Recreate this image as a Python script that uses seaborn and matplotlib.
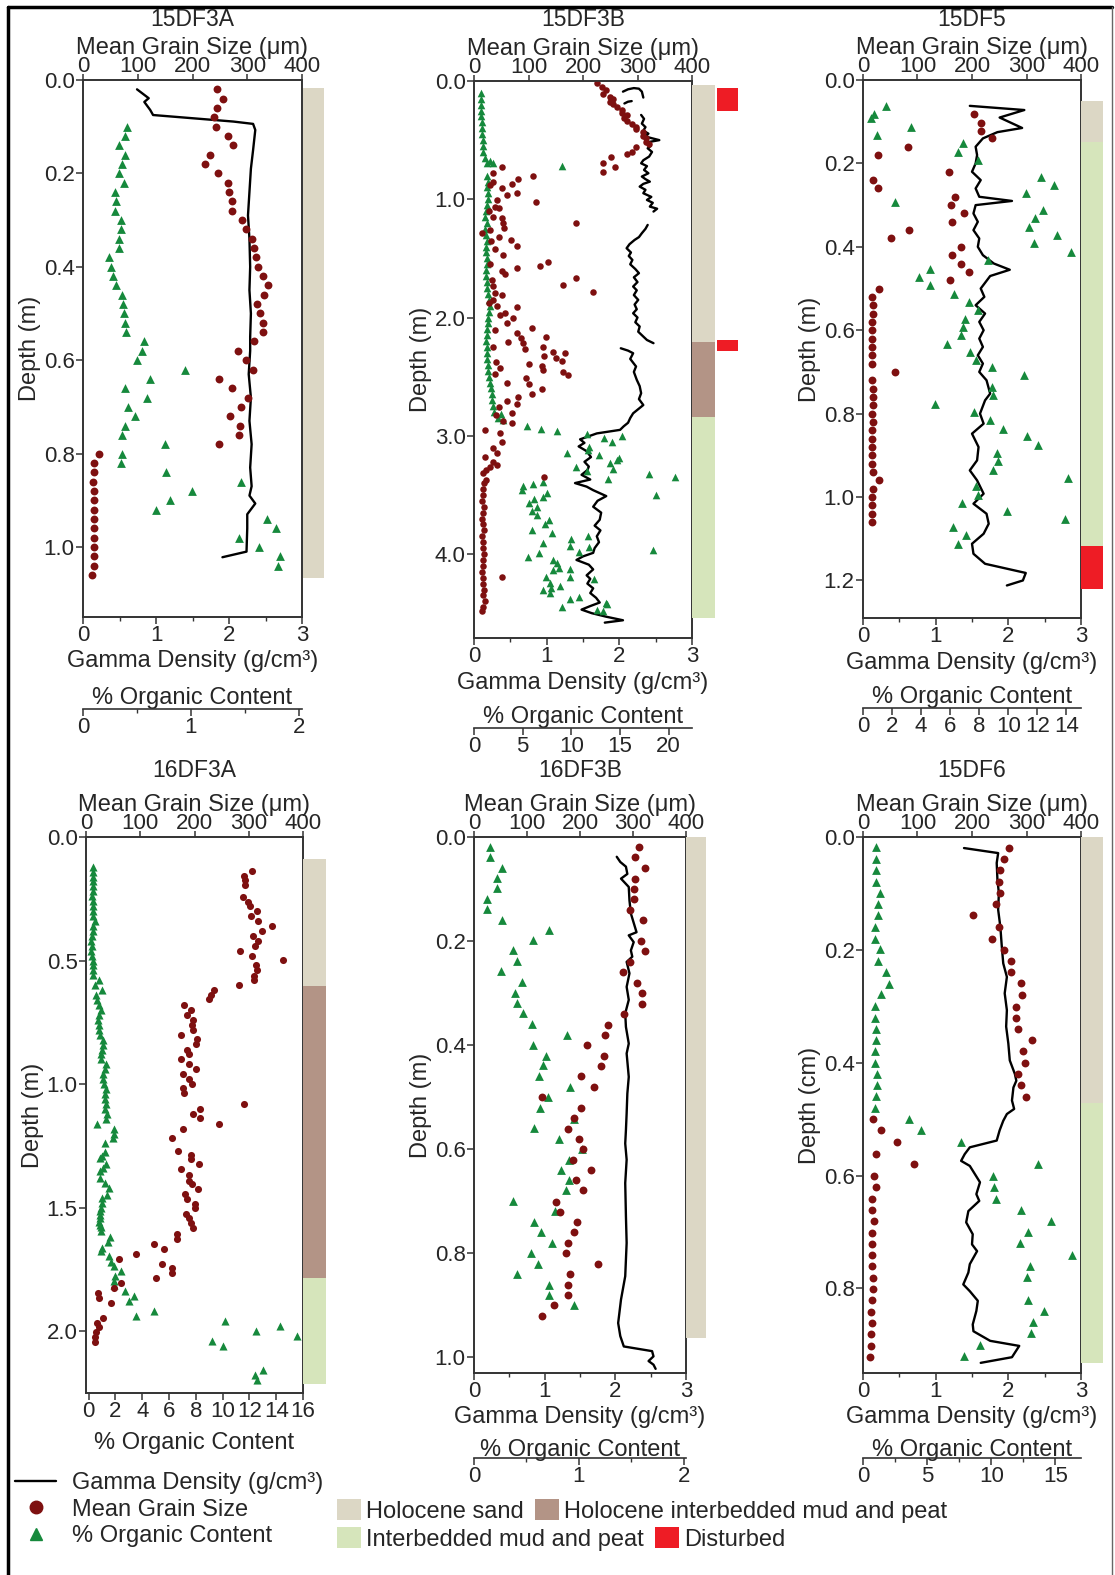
import numpy as np
import pandas as pd
import matplotlib.pyplot as plt
import seaborn as sns
from matplotlib.lines import Line2D
from matplotlib.patches import Patch
from matplotlib.ticker import MultipleLocator, FormatStrFormatter

# --------------------------
# Datos
# --------------------------

# 15DF3A
a_gd_depth = [0.020, 0.039, 0.047, 0.064, 0.075, 0.089, 0.094, 0.107, 0.15, 0.19, 0.24, 0.29, 0.34, 0.40, 0.45,
              0.50, 0.55, 0.58, 0.63, 0.68, 0.73, 0.78, 0.83, 0.87, 0.89, 0.907, 0.93, 0.96, 1.010, 1.022]
a_gd = [0.74, 0.90, 0.84, 0.92, 0.96, 2.06, 2.33, 2.36, 2.33, 2.30, 2.28, 2.26, 2.28, 2.29, 2.28,
        2.30, 2.29, 2.29, 2.27, 2.30, 2.28, 2.31, 2.29, 2.31, 2.28, 2.36, 2.25, 2.25, 2.24, 1.91]
a_gs_depth = [0.02, 0.04, 0.06, 0.08, 0.10, 0.12, 0.14, 0.16, 0.18, 0.20, 0.22, 0.24, 0.26, 0.28, 0.30, 0.32, 0.34,
              0.36, 0.38, 0.40, 0.42, 0.44, 0.46, 0.48, 0.50, 0.52, 0.54, 0.56, 0.58, 0.60, 0.62, 0.64, 0.66, 0.68,
              0.70, 0.72, 0.74, 0.76, 0.78, 0.80, 0.82, 0.84, 0.86, 0.88, 0.90, 0.92, 0.94, 0.96, 0.98, 1.00, 1.02,
              1.04, 1.06]
a_gs = [245, 255, 245, 240, 243, 265, 274, 232, 223, 247, 265, 267, 273, 272, 290, 297, 308, 313, 316, 320, 328,
        337, 331, 318, 324, 328, 329, 312, 284, 298, 311, 249, 272, 302, 289, 268, 286, 285, 249, 30, 20, 20, 18,
        20, 20, 20, 20, 20, 20, 20, 20, 20, 17]
a_org_depth = [0.10, 0.12, 0.14, 0.16, 0.18, 0.20, 0.22, 0.24, 0.26, 0.28, 0.30, 0.32, 0.34, 0.36, 0.38, 0.40, 0.42,
               0.44, 0.46, 0.48, 0.50, 0.52, 0.54, 0.56, 0.58, 0.60, 0.62, 0.64, 0.66, 0.68, 0.70, 0.72, 0.74, 0.76,
               0.78, 0.80, 0.82, 0.84, 0.86, 0.88, 0.90, 0.92, 0.94, 0.96, 0.98, 1.00, 1.02, 1.04]
a_org = [0.41, 0.39, 0.33, 0.39, 0.36, 0.33, 0.38, 0.30, 0.31, 0.30, 0.35, 0.35, 0.33, 0.33, 0.24, 0.26, 0.28, 0.31,
         0.36, 0.37, 0.38, 0.39, 0.40, 0.57, 0.55, 0.50, 0.95, 0.62, 0.39, 0.59, 0.42, 0.48, 0.39, 0.36, 0.76, 0.36,
         0.35, 0.77, 1.46, 1.01, 0.81, 0.68, 1.71, 1.79, 1.45, 1.63, 1.83, 1.81]
a_units = [(0.017, 1.067, 'sand')]

# 15DF3B (la curva de densidad tiene huecos: 5 tramos)
b_seg_sizes = [6, 3, 31, 29, 59]
b_gd_depth = [0.09, 0.07, 0.06, 0.065, 0.09, 0.14,
              0.19, 0.175, 0.17,
              0.287, 0.32, 0.36, 0.39, 0.42, 0.445, 0.47, 0.50, 0.52, 0.55, 0.569, 0.60, 0.639, 0.67, 0.696, 0.72,
              0.752, 0.78, 0.808, 0.83, 0.851, 0.87, 0.893, 0.92, 0.949, 0.98, 1.006, 1.03, 1.062, 1.08, 1.104,
              1.217, 1.25, 1.287, 1.32, 1.344, 1.38, 1.414, 1.45, 1.48, 1.513, 1.55, 1.59, 1.625, 1.66, 1.70, 1.738,
              1.77, 1.81, 1.851, 1.89, 1.93, 1.964, 2.00, 2.04, 2.076, 2.12, 2.161, 2.19, 2.217,
              2.26, 2.28, 2.302, 2.35, 2.414, 2.46, 2.527, 2.58, 2.64, 2.69, 2.74, 2.78, 2.81, 2.85, 2.89, 2.92,
              2.95, 2.98, 3.03, 3.06, 3.09, 3.13, 3.18, 3.22, 3.26, 3.29, 3.33, 3.37, 3.40, 3.43, 3.46, 3.51, 3.55,
              3.60, 3.65, 3.71, 3.76, 3.80, 3.85, 3.90, 3.95, 3.99, 4.02, 4.05, 4.09, 4.13, 4.18, 4.21, 4.25, 4.29,
              4.33, 4.37, 4.41, 4.44, 4.47, 4.50, 4.53, 4.56, 4.58]
b_gd = [2.05, 2.12, 2.20, 2.27, 2.31, 2.33,
        2.07, 2.12, 2.17,
        2.30, 2.34, 2.31, 2.36, 2.33, 2.40, 2.36, 2.55, 2.37, 2.43, 2.39, 2.45, 2.41, 2.33, 2.30, 2.38, 2.34, 2.40,
        2.31, 2.36, 2.42, 2.33, 2.28, 2.36, 2.33, 2.44, 2.38, 2.46, 2.42, 2.52, 2.47,
        2.39, 2.36, 2.31, 2.27, 2.21, 2.14, 2.10, 2.16, 2.13, 2.18, 2.15, 2.22, 2.27, 2.20, 2.25, 2.19, 2.24, 2.20,
        2.26, 2.21, 2.24, 2.19, 2.25, 2.22, 2.28, 2.26, 2.33, 2.38, 2.47,
        2.02, 2.12, 2.19, 2.15, 2.23, 2.20, 2.24, 2.28, 2.30, 2.27, 2.33, 2.25, 2.19, 2.15, 2.12, 2.06, 2.01, 1.69,
        1.46, 1.52, 1.44, 1.55, 1.61, 1.52, 1.58, 1.56, 1.48, 1.60, 1.39, 1.55, 1.64, 1.82, 1.70, 1.64, 1.75,
        1.73, 1.66, 1.74, 1.69, 1.72, 1.66, 1.64, 1.50, 1.41, 1.58, 1.64, 1.55, 1.60, 1.56, 1.64, 1.60, 1.68,
        1.73, 1.60, 1.48, 1.62, 1.82, 2.05, 1.80]
b_gs_depth = [0.02, 0.053, 0.076, 0.11, 0.133, 0.155, 0.175, 0.195, 0.217, 0.245, 0.273, 0.287, 0.315, 0.335, 0.363,
              0.386, 0.408, 0.428, 0.465, 0.485, 0.513, 0.532, 0.555, 0.597, 0.617, 0.639, 0.69, 0.724, 0.766,
              0.724, 0.78, 0.828, 0.803, 0.851, 0.907, 0.874, 0.964, 0.944, 1.006, 1.023, 1.062, 1.076, 1.147,
              1.161, 1.197, 1.245, 1.282, 1.26, 1.321, 1.344, 1.395, 1.423, 1.471, 1.561, 1.527, 1.583, 1.603,
              1.631, 1.203, 1.724, 1.662, 1.786, 1.733, 1.795, 1.809, 1.851, 1.902, 1.907, 1.964, 1.978, 2.043,
              2.006, 2.085, 2.105, 2.133, 2.175, 2.167, 2.204, 2.218, 2.268, 2.246, 2.288, 2.302, 2.325, 2.344,
              2.364, 2.392, 2.409, 2.443, 2.457, 2.485, 2.429, 2.513,
              0.88, 1.10, 1.35, 1.55, 1.68, 1.88, 2.25, 2.38, 2.48,
              2.55, 2.561, 2.668, 2.646, 2.606, 2.702, 2.73, 2.809, 2.753, 2.823, 2.894, 2.871, 2.978, 3.049, 2.95,
              3.105, 3.142, 3.176, 3.218, 3.246, 3.26, 3.288, 3.316, 3.373, 3.35,
              3.40, 3.45, 3.50, 3.55, 3.60, 3.65, 3.70, 3.75, 3.80, 3.85, 3.90, 3.95, 4.00, 4.05, 4.10, 4.15, 4.20,
              4.25, 4.30, 4.35, 4.40, 4.45, 4.48, 4.19]
b_gs = [225, 234, 243, 237, 249, 255, 249, 255, 263, 271, 271, 280, 275, 280, 289, 298, 298, 310, 310, 316, 316,
        321, 298, 289, 280, 252, 237, 258, 236,
        52, 35, 81, 109, 35, 51, 69, 60, 78, 42, 114, 38, 45, 35, 51, 54, 55, 14, 30, 45, 68, 78, 38, 54, 121, 136,
        78, 52, 57, 188, 164, 188, 219, 35, 38, 51, 35, 42, 78, 57, 47, 60, 72, 107, 38, 78, 87, 133, 63, 90, 93,
        127, 145, 167, 129, 150, 162, 100, 124, 127, 164, 173, 48, 96,
        30, 28, 32, 30, 33, 28, 35, 40, 38,
        60, 100, 80, 107, 125, 60, 78, 69, 45, 40, 69, 54, 48, 52, 20, 35, 42, 20, 35, 43, 30, 22, 17, 22, 129,
        18, 16, 17, 15, 18, 16, 14, 17, 18, 15, 17, 16, 18, 17, 16, 15, 17, 16, 18, 17, 20, 16, 14, 51]
b_org_depth = [0.10, 0.15, 0.20, 0.25, 0.30, 0.35, 0.40, 0.45, 0.50, 0.55, 0.60, 0.65, 0.673, 0.69, 0.695, 0.717,
               0.80, 0.85, 0.90, 0.95, 1.0, 1.05, 1.10, 1.15, 1.2, 1.25, 1.3, 1.35, 1.4, 1.45, 1.5, 1.55, 1.6, 1.65,
               1.7, 1.75, 1.8, 1.85, 1.9, 1.95, 2.0, 2.05, 2.1, 2.15, 2.2, 2.25, 2.3, 2.35, 2.4, 2.45, 2.5, 2.55,
               2.6, 2.65, 2.7, 2.75, 2.8, 2.82, 2.85, 2.87,
               2.921, 2.943, 2.963, 2.983, 3.02, 3.056, 3.0, 3.142, 3.091, 3.12, 3.162, 3.19, 3.204, 3.232, 3.266,
               3.294, 3.283, 3.362, 3.325, 3.345, 3.505, 3.965, 3.457, 3.424, 3.407, 3.388, 3.486, 3.52, 3.565,
               3.537, 3.599, 3.636, 3.67, 3.712, 3.746, 3.797, 3.825, 3.91, 3.994, 4.022, 3.876, 3.93, 3.986, 3.848,
               3.938, 4.05, 4.078, 4.135, 4.121, 4.129, 4.191, 4.191, 4.242, 4.267, 4.304, 4.289, 4.326, 4.382,
               4.365, 4.444, 4.211, 4.472, 4.48, 4.41, 4.422]
b_org = [0.7, 0.7, 0.72, 0.75, 0.75, 0.78, 0.8, 0.85, 0.88, 0.9, 0.95, 1.1, 1.64, 1.99, 1.3, 9.08, 1.35, 1.4, 1.3,
         1.45, 1.4, 1.3, 1.2, 1.1, 1.3, 1.15, 1.2, 1.3, 1.25, 1.2, 1.3, 1.35, 1.25, 1.2, 1.3, 1.35, 1.4, 1.5, 1.6,
         1.55, 1.45, 1.4, 1.35, 1.3, 1.25, 1.3, 1.35, 1.3, 1.4, 1.45, 1.5, 1.6, 1.7, 1.8, 1.9, 2.0, 2.1, 2.8, 2.5,
         3.0,
         5.41, 6.88, 8.49, 11.58, 13.36, 14.21, 15.24, 9.52, 11.85, 11.74, 12.88, 14.93, 14.73, 13.97, 10.48,
         11.64, 14.25, 13.8, 18.0, 20.65, 18.7, 18.42, 4.9, 5.0, 6.1, 7.05, 7.47, 7.05, 5.68, 6.16, 6.44, 5.92,
         6.44, 7.74, 7.29, 5.92, 8.0, 7.05, 6.71, 5.58, 9.93, 9.86, 10.82, 11.75, 11.85, 8.15, 8.49, 8.08, 8.77,
         9.86, 9.86, 7.4, 7.81, 8.84, 7.05, 7.88, 7.81, 9.86, 10.82, 9.0, 12.36, 12.67, 13.22, 13.56, 13.7]
b_units = [(0.034, 2.21, 'sand'), (2.21, 2.84, 'hmud'), (2.84, 4.54, 'mud')]
b_disturbed = [(0.062, 0.25), (2.19, 2.28)]

# 15DF5
c_gd_depth = [0.062, 0.072, 0.09, 0.115, 0.125, 0.14, 0.16, 0.18, 0.20, 0.22, 0.24, 0.26, 0.28, 0.29, 0.30, 0.32,
              0.34, 0.36, 0.38, 0.40, 0.42, 0.44, 0.455, 0.47, 0.50, 0.52, 0.54, 0.56, 0.58, 0.60, 0.62, 0.64,
              0.66, 0.68, 0.70, 0.72, 0.752, 0.768, 0.80, 0.824, 0.848, 0.88, 0.912, 0.936, 0.96, 0.992, 1.016,
              1.04, 1.064, 1.088, 1.112, 1.136, 1.16, 1.182, 1.20, 1.212]
c_gd = [1.47, 2.22, 1.88, 2.19, 1.85, 1.65, 1.55, 1.57, 1.55, 1.50, 1.62, 1.55, 1.60, 2.05, 1.55, 1.52, 1.58, 1.52,
        1.60, 1.58, 1.65, 1.80, 2.02, 1.75, 1.62, 1.67, 1.55, 1.68, 1.60, 1.66, 1.60, 1.65, 1.58, 1.65, 1.60, 1.70,
        1.75, 1.68, 1.61, 1.66, 1.50, 1.59, 1.57, 1.47, 1.57, 1.66, 1.52, 1.70, 1.73, 1.66, 1.50, 1.52, 1.68, 2.24,
        2.20, 1.98]
c_gs_depth = [0.082, 0.102, 0.122, 0.14, 0.16, 0.18, 0.22, 0.24, 0.26, 0.28, 0.30, 0.32, 0.34, 0.36, 0.38, 0.40,
              0.42, 0.44, 0.46, 0.48, 0.50, 0.52, 0.54, 0.56, 0.58, 0.60, 0.62, 0.64, 0.66, 0.68, 0.70, 0.72, 0.74,
              0.76, 0.78, 0.80, 0.82, 0.84, 0.86, 0.88, 0.90, 0.92, 0.94, 0.96, 0.98, 1.00, 1.02, 1.04, 1.06]
c_gs = [203, 217, 216, 236, 82, 27.5, 157, 18, 27.5, 168, 162, 186, 163, 85, 52, 180, 163, 180, 194, 160, 30, 16.5,
        18, 18, 16, 16, 16, 17, 17, 17, 58, 17, 18, 18, 18, 17, 18, 17, 17, 17, 17, 17, 18, 29, 18, 16, 17, 17, 17]
c_org_depth = [0.062, 0.082, 0.092, 0.112, 0.132, 0.152, 0.172, 0.192, 0.232, 0.252, 0.272, 0.292, 0.312, 0.332,
               0.352, 0.372, 0.392, 0.412, 0.432, 0.452, 0.472, 0.492, 0.512, 0.532, 0.552, 0.572, 0.592, 0.612,
               0.632, 0.652, 0.672, 0.688, 0.708, 0.736, 0.756, 0.776, 0.796, 0.816, 0.836, 0.854, 0.874, 0.894,
               0.914, 0.934, 0.954, 0.974, 0.994, 1.014, 1.034, 1.052, 1.072, 1.092, 1.112]
c_org = [1.58, 0.78, 0.55, 3.30, 0.96, 6.91, 6.57, 7.94, 12.23, 13.15, 11.22, 2.22, 12.41, 11.84, 11.43, 13.37,
         11.77, 14.29, 8.59, 4.62, 3.87, 4.58, 6.27, 7.32, 7.90, 7.03, 6.91, 6.73, 5.77, 7.37, 7.79, 8.86, 11.08,
         8.90, 8.94, 4.97, 7.65, 8.75, 9.66, 11.27, 12.07, 9.21, 9.32, 8.97, 14.08, 7.79, 7.94, 6.80, 9.89, 13.90,
         6.16, 7.10, 6.53]
c_units = [(0.05, 0.148, 'sand'), (0.148, 1.118, 'mud'), (1.118, 1.22, 'dist')]

# 16DF3A
d_gs_depth = [0.139, 0.159, 0.175, 0.195, 0.242, 0.262, 0.28, 0.30, 0.319, 0.34, 0.359, 0.381, 0.40, 0.421, 0.44,
              0.46, 0.48, 0.499, 0.518, 0.539, 0.562, 0.578, 0.60, 0.619, 0.639, 0.656, 0.68, 0.699, 0.72, 0.74,
              0.76, 0.78, 0.80, 0.818, 0.838, 0.861, 0.879, 0.899, 0.919, 0.939, 0.959, 0.979, 0.998, 1.017, 1.036,
              1.079, 1.099, 1.119, 1.139, 1.16, 1.18, 1.218, 1.271, 1.285, 1.305, 1.325, 1.345, 1.368, 1.392,
              1.406, 1.426, 1.446, 1.466, 1.484, 1.503, 1.525, 1.541, 1.561, 1.584, 1.606, 1.625, 1.647, 1.666,
              1.687, 1.706, 1.728, 1.746, 1.766, 1.786, 1.804, 1.824, 1.844, 1.864, 1.887, 1.945, 1.965, 1.983,
              2.003, 2.023, 2.043]
d_gs = [306, 291, 293, 294, 290, 299, 303, 316, 305, 317, 342, 325, 308, 317, 311, 284, 306, 364, 314, 316, 310,
        310, 282, 236, 230, 227, 181, 193, 186, 197, 195, 197, 176, 205, 202, 187, 190, 176, 189, 202, 178, 189,
        196, 179, 181, 291, 210, 197, 211, 245, 179, 158, 170, 193, 193, 209, 176, 189, 190, 195, 206, 182, 187,
        201, 200, 184, 190, 193, 198, 168, 168, 125, 143, 92, 60, 141, 158, 158, 129, 64, 52, 22, 24, 46, 32, 20,
        24, 19, 16, 17]
d_org_depth = [0.12, 0.14, 0.16, 0.18, 0.20, 0.22, 0.24, 0.26, 0.28, 0.30, 0.32, 0.34, 0.36, 0.38, 0.40, 0.42, 0.44,
               0.46, 0.48, 0.50, 0.52, 0.54, 0.56, 0.58, 0.60, 0.62, 0.64, 0.66, 0.68, 0.70, 0.72, 0.74, 0.76, 0.78,
               0.80, 0.82, 0.84, 0.86, 0.88, 0.90, 0.92, 0.94, 0.96, 0.98, 1.00, 1.02, 1.04, 1.06, 1.08, 1.10, 1.12,
               1.14, 1.16, 1.18, 1.20, 1.22, 1.24,
               1.274, 1.29, 1.301, 1.324, 1.34, 1.353, 1.38, 1.40, 1.421, 1.448, 1.46, 1.481, 1.50, 1.515, 1.53,
               1.542, 1.56, 1.569, 1.58, 1.596, 1.619, 1.637, 1.664, 1.677, 1.697, 1.718, 1.738, 1.758, 1.778,
               1.798, 1.812, 1.839, 1.859, 1.879, 1.919, 1.937, 1.96, 1.977, 2.0, 2.018, 2.038, 2.058, 2.157, 2.179,
               2.198]
d_org = [0.35, 0.3, 0.3, 0.3, 0.35, 0.3, 0.25, 0.3, 0.35, 0.3, 0.35, 0.5, 0.35, 0.3, 0.25, 0.2, 0.25, 0.2, 0.25,
         0.3, 0.35, 0.3, 0.35, 0.8, 0.5, 1.0, 0.55, 0.6, 0.75, 0.9, 0.8, 0.7, 0.75, 0.8, 0.85, 1.1, 1.05, 1.0, 0.9,
         0.95, 1.3, 1.2, 1.05, 1.1, 1.15, 1.3, 1.2, 1.25, 1.3, 1.25, 1.35, 1.3, 0.6, 1.86, 1.9, 1.8, 1.2,
         1.24, 1.0, 0.87, 1.32, 1.1, 0.87, 0.82, 1.2, 1.49, 1.36, 1.0, 0.99, 0.9, 0.87, 0.85, 0.82, 0.8, 0.87, 0.9,
         0.92, 1.61, 1.41, 0.99, 0.94, 1.51, 1.66, 1.86, 2.41, 1.99, 1.86, 1.86, 2.73, 3.42, 2.98, 4.84, 3.55,
         10.2, 14.32, 12.46, 15.56, 9.18, 10.05, 13.03, 12.41, 12.6]
d_units = [(0.09, 0.602, 'sand'), (0.602, 1.786, 'hmud'), (1.786, 2.214, 'mud')]

# 16DF3B
e_gd_depth = [0.038, 0.048, 0.057, 0.071, 0.08, 0.096, 0.122, 0.147, 0.183, 0.189, 0.202, 0.218, 0.23, 0.24, 0.262,
              0.288, 0.313, 0.339, 0.365, 0.397, 0.416, 0.461, 0.493, 0.531, 0.563, 0.589, 0.62, 0.665, 0.729,
              0.78, 0.844, 0.889, 0.934, 0.959, 0.979, 0.988, 0.998, 1.007, 1.014, 1.022]
e_gd = [2.02, 2.07, 2.15, 2.17, 2.08, 2.19, 2.20, 2.22, 2.30, 2.19, 2.26, 2.22, 2.24, 2.16, 2.20, 2.16, 2.19, 2.14,
        2.15, 2.19, 2.16, 2.19, 2.17, 2.16, 2.15, 2.14, 2.16, 2.14, 2.15, 2.16, 2.14, 2.08, 2.04, 2.07, 2.12, 2.52,
        2.54, 2.47, 2.54, 2.57]
e_gs_depth = [0.02, 0.039, 0.059, 0.08, 0.10, 0.12, 0.141, 0.16, 0.20, 0.22, 0.24, 0.26, 0.28, 0.30, 0.32, 0.341,
              0.361, 0.38, 0.40, 0.42, 0.44, 0.46, 0.48, 0.50, 0.52, 0.54, 0.561, 0.58, 0.60, 0.62, 0.64, 0.66,
              0.679, 0.701, 0.72, 0.74, 0.76, 0.78, 0.80, 0.82, 0.84, 0.86, 0.881, 0.90, 0.92]
e_gs = [312, 304, 323, 304, 301, 301, 295, 319, 315, 322, 295, 282, 307, 317, 317, 283, 252, 247, 214, 246, 239,
        202, 227, 129, 201, 189, 177, 199, 205, 187, 221, 192, 206, 154, 162, 194, 189, 177, 174, 234, 182, 177,
        177, 150, 129]
e_org_depth = [0.019, 0.038, 0.059, 0.078, 0.098, 0.119, 0.138, 0.159, 0.179, 0.198, 0.218, 0.238, 0.257, 0.278,
               0.299, 0.319, 0.339, 0.359, 0.38, 0.399, 0.42, 0.439, 0.46, 0.48, 0.499, 0.52, 0.541, 0.56, 0.581,
               0.60, 0.62, 0.64, 0.66, 0.679, 0.699, 0.719, 0.74, 0.76, 0.78, 0.80, 0.82, 0.84, 0.861, 0.88, 0.90]
e_org = [0.156, 0.156, 0.268, 0.223, 0.223, 0.121, 0.121, 0.268, 0.714, 0.561, 0.376, 0.405, 0.255, 0.456, 0.392,
         0.405, 0.463, 0.555, 0.884, 0.565, 0.683, 0.654, 0.616, 0.916, 0.708, 0.628, 0.951, 0.574, 0.813, 1.033,
         0.903, 0.833, 0.906, 0.877, 0.373, 0.772, 0.571, 0.635, 0.743, 0.542, 0.606, 0.405, 0.714, 0.714, 0.954]
e_units = [(0.0, 0.963, 'sand')]

# 15DF6
f_gd_depth = [0.0196, 0.0285, 0.046, 0.076, 0.0995, 0.129, 0.159, 0.194, 0.224, 0.248, 0.277, 0.307, 0.336, 0.366,
              0.396, 0.42, 0.432, 0.444, 0.467, 0.482, 0.491, 0.503, 0.52, 0.538, 0.55, 0.562, 0.574, 0.583, 0.612,
              0.633, 0.645, 0.663, 0.683, 0.704, 0.722, 0.734, 0.757, 0.772, 0.793, 0.805, 0.822, 0.84, 0.864,
              0.876, 0.893, 0.902, 0.922, 0.932]
f_gd = [1.39, 1.86, 1.84, 1.85, 1.87, 1.86, 1.89, 1.91, 1.93, 1.98, 1.95, 1.98, 1.97, 2.00, 2.02, 2.09, 2.11, 2.07,
        2.05, 2.08, 1.98, 1.93, 1.88, 1.84, 1.47, 1.40, 1.35, 1.47, 1.61, 1.56, 1.60, 1.45, 1.42, 1.51, 1.50, 1.57,
        1.47, 1.45, 1.38, 1.47, 1.58, 1.56, 1.51, 1.52, 1.75, 2.15, 2.05, 1.62]
f_gs_depth = [0.0196, 0.0391, 0.0593, 0.08, 0.0995, 0.119, 0.139, 0.16, 0.18, 0.20, 0.22, 0.24, 0.259, 0.28, 0.301,
              0.32, 0.34, 0.36, 0.38, 0.40, 0.42, 0.44, 0.46, 0.50, 0.52, 0.54, 0.561, 0.58, 0.601, 0.621, 0.641,
              0.661, 0.681, 0.701, 0.722, 0.741, 0.761, 0.781, 0.801, 0.821, 0.841, 0.861, 0.881, 0.902, 0.922]
f_gs = [268, 259, 251, 250, 252, 244, 202, 250, 236, 259, 271, 271, 289, 291, 280, 280, 284, 311, 293, 298, 284, 289,
        299, 18, 33, 62, 23, 93, 20, 23, 17, 17, 20, 17, 17, 17, 17, 18, 18, 17, 15, 17, 15, 14, 12]
f_org_depth = [0.0178, 0.0385, 0.058, 0.079, 0.099, 0.119, 0.139, 0.159, 0.18, 0.199, 0.219, 0.239, 0.26, 0.279,
               0.30, 0.32, 0.34, 0.36, 0.38, 0.40, 0.42, 0.44, 0.459, 0.48, 0.50, 0.52, 0.54, 0.58, 0.60, 0.62,
               0.641, 0.661, 0.68, 0.70, 0.72, 0.74, 0.76, 0.78, 0.82, 0.84, 0.86, 0.879, 0.90, 0.92]
f_org = [1.04, 1.04, 1.01, 1.01, 1.35, 1.17, 1.17, 0.96, 0.96, 1.35, 1.14, 1.81, 2.05, 1.40, 0.91, 0.96, 1.01, 1.01,
         0.91, 0.96, 1.09, 1.09, 1.04, 0.91, 3.60, 4.51, 7.64, 13.68, 10.10, 10.20, 10.34, 12.36, 14.64, 12.88,
         12.28, 16.32, 13.06, 12.80, 12.88, 14.09, 13.26, 13.08, 9.12, 7.90]
f_units = [(0.0, 0.472, 'sand'), (0.472, 0.932, 'mud')]

# Colores
C_GRAIN = '#7e1010'
C_ORG = '#16893c'
UNIT_COLORS = {'sand': '#dcd7c5', 'hmud': '#b39486', 'mud': '#d6e5bb', 'dist': '#ee1c25'}
UNIT_NAMES = {'sand': 'Holocene sand', 'hmud': 'Holocene interbedded mud and peat',
              'mud': 'Interbedded mud and peat', 'dist': 'Disturbed'}

W, H = 1115, 1575
FS_LABEL = 17
FS_TICK = 16


def rect(x0, y0, x1, y1):
    return [x0 / W, 1 - y1 / H, (x1 - x0) / W, (y1 - y0) / H]


def style_ticks(ax, axis='both', pad=1, length=5):
    ax.tick_params(axis=axis, which='major', direction='out', length=length, width=1.1, labelsize=FS_TICK, pad=pad,
                   color='#333333')
    ax.tick_params(axis=axis, which='minor', direction='out', length=3, width=1.0, color='#333333')


# --------------------------
# Panel de un nucleo
# --------------------------
def panel(fig, box, strip, title, title_y, dmax, dstep, ylabel,
          gs_d, gs_v, org_d, org_v, org_lim, org_step, org_minor,
          units, gd_d=None, gd_v=None, gd_seg=None, org_line=None, org_pad=3, disturbed=(), mark=32):
    x0, y0, x1, y1 = box
    ax = fig.add_axes(rect(x0, y0, x1, y1))
    ax.set_facecolor('white')

    if gd_d is not None:
        seg = gd_seg if gd_seg is not None else [0] * len(gd_d)
        gd = pd.DataFrame({'depth': gd_d, 'gamma': gd_v, 'seg': seg})
        sns.lineplot(data=gd, x='gamma', y='depth', units='seg', estimator=None, sort=False, orient='y',
                     color='black', lw=1.7, ax=ax)
        ax.set_xlim(0, 3)
        ax.xaxis.set_major_locator(MultipleLocator(1))
        ax.xaxis.set_minor_locator(MultipleLocator(0.5))
        ax.set_xlabel('Gamma Density (g/cm³)', fontsize=FS_LABEL, labelpad=3)
        ax_org = ax.twiny()
        ax_org.axis('off')
    else:
        ax_org = ax

    org_df = pd.DataFrame({'depth': org_d, 'org': org_v})
    sns.scatterplot(data=org_df, x='org', y='depth', marker='^', color=C_ORG, s=mark + 8, linewidth=0, ax=ax_org)
    ax_org.set_xlim(*org_lim)
    if gd_d is None:
        ax.xaxis.set_major_locator(MultipleLocator(org_step))
        ax.set_xlabel('% Organic Content', fontsize=FS_LABEL, labelpad=7)

    ax_gs = ax.twiny()
    gs_df = pd.DataFrame({'depth': gs_d, 'grain': gs_v})
    sns.scatterplot(data=gs_df, x='grain', y='depth', marker='o', color=C_GRAIN, s=mark, linewidth=0, ax=ax_gs)
    ax_gs.set_xlim(0, 400)
    ax_gs.xaxis.set_major_locator(MultipleLocator(100))
    ax_gs.set_xlabel('Mean Grain Size (μm)', fontsize=FS_LABEL, labelpad=1.5)
    ax_gs.xaxis.set_label_position('top')
    style_ticks(ax_gs, 'x', pad=-2, length=4)

    ax.set_ylim(dmax, 0)
    ax.yaxis.set_major_locator(MultipleLocator(dstep))
    ax.yaxis.set_major_formatter(FormatStrFormatter('%.1f'))
    ax.set_ylabel(ylabel, fontsize=FS_LABEL, labelpad=2)
    style_ticks(ax)
    for sp in list(ax.spines.values()) + list(ax_gs.spines.values()):
        sp.set_linewidth(1.2)
        sp.set_color('#333333')

    fig.text((x0 + x1) / 2 / W, 1 - title_y / H, title, ha='center', va='center', fontsize=16.5)

    # columna litologica
    sx0, sx1, frac = strip
    ax_s = fig.add_axes(rect(sx0, y0, sx1, y1), sharey=ax)
    for top, bot, kind in units:
        ax_s.axhspan(top, bot, 0, frac, color=UNIT_COLORS[kind], lw=0)
    for top, bot in disturbed:
        ax_s.axhspan(top, bot, frac + 0.04, 1, color=UNIT_COLORS['dist'], lw=0)
    ax_s.set_xlim(0, 1)
    ax_s.axis('off')

    # eje de contenido organico
    if org_line is not None:
        ax_l = fig.add_axes(rect(x0, org_line, x1, org_line + 1))
        ax_l.set_xlim(*org_lim)
        ax_l.set_yticks([])
        for s in ['top', 'left', 'right']:
            ax_l.spines[s].set_visible(False)
        ax_l.spines['bottom'].set_linewidth(1.2)
        ax_l.spines['bottom'].set_color('#333333')
        ax_l.xaxis.set_major_locator(MultipleLocator(org_step))
        if org_minor:
            ax_l.xaxis.set_minor_locator(MultipleLocator(org_minor))
        ax_l.xaxis.set_label_position('top')
        ax_l.set_xlabel('% Organic Content', fontsize=FS_LABEL, labelpad=org_pad)
        ax_l.patch.set_visible(False)
        style_ticks(ax_l, 'x')
    return ax


sns.set_style('ticks')
plt.rcParams['font.family'] = ['Liberation Sans', 'DejaVu Sans']
plt.rcParams['font.size'] = FS_TICK

fig = plt.figure(figsize=(W / 100, H / 100), dpi=100)

b_seg = list(np.repeat(np.arange(len(b_seg_sizes)), b_seg_sizes))

panel(fig, (83, 80, 302, 617), (303, 324, 1.0), '15DF3A', 19, 1.15, 0.2, 'Depth (m)',
      a_gs_depth, a_gs, a_org_depth, a_org, (0, 2.03), 1, 0.5, a_units,
      gd_d=a_gd_depth, gd_v=a_gd, org_line=708)
panel(fig, (474, 81, 692, 638), (692, 738, 0.5), '15DF3B', 20, 4.71, 1.0, 'Depth (m)',
      b_gs_depth, b_gs, b_org_depth, b_org, (0, 22.4), 5, None, b_units,
      gd_d=b_gd_depth, gd_v=b_gd, gd_seg=b_seg, org_line=727, disturbed=b_disturbed, mark=22)
panel(fig, (863, 80, 1081, 618), (1081, 1103, 1.0), '15DF5', 19, 1.29, 0.2, 'Depth (m)',
      c_gs_depth, c_gs, c_org_depth, c_org, (0, 15), 2, None, c_units,
      gd_d=c_gd_depth, gd_v=c_gd, org_line=707)
panel(fig, (86, 837, 303, 1393), (303, 326, 1.0), '16DF3A', 771, 2.25, 0.5, 'Depth (m)',
      d_gs_depth, d_gs, d_org_depth, d_org, (-0.2, 16), 2, None, d_units, mark=26)
panel(fig, (474, 837, 686, 1373), (686, 706, 1.0), '16DF3B', 771, 1.03, 0.2, 'Depth (m)',
      e_gs_depth, e_gs, e_org_depth, e_org, (0, 2.02), 1, 0.5, e_units,
      gd_d=e_gd_depth, gd_v=e_gd, org_line=1457, org_pad=1)
panel(fig, (863, 837, 1081, 1373), (1081, 1103, 1.0), '15DF6', 771, 0.95, 0.2, 'Depth (cm)',
      f_gs_depth, f_gs, f_org_depth, f_org, (0, 17), 5, 2.5, f_units,
      gd_d=f_gd_depth, gd_v=f_gd, org_line=1457, org_pad=1)

# Leyendas
series_handles = [Line2D([], [], color='black', lw=1.7),
                  Line2D([], [], ls='', marker='o', color=C_GRAIN, ms=9),
                  Line2D([], [], ls='', marker='^', color=C_ORG, ms=9)]
fig.legend(series_handles, ['Gamma Density (g/cm³)', 'Mean Grain Size', '% Organic Content'],
           loc='upper left', bbox_to_anchor=(15 / W, 1 - 1472 / H), frameon=False, fontsize=FS_LABEL,
           handlelength=1.75, handletextpad=0.65, labelspacing=0.2, borderpad=0, borderaxespad=0)

for row, y in [(['sand', 'hmud'], 1511), (['mud', 'dist'], 1539)]:
    fig.legend([Patch(facecolor=UNIT_COLORS[k], edgecolor='none') for k in row], [UNIT_NAMES[k] for k in row],
               loc='center left', bbox_to_anchor=(337 / W, 1 - y / H), ncol=2, frameon=False, fontsize=FS_LABEL,
               handlelength=1.02, handleheight=0.95, handletextpad=0.22, columnspacing=0.45,
               borderpad=0, borderaxespad=0)

# Marco exterior
fig.add_artist(Line2D([8 / W, 8 / W], [0, 1 - 7 / H], transform=fig.transFigure, color='black', lw=2.5))
fig.add_artist(Line2D([8 / W, 1112 / W], [1 - 7 / H, 1 - 7 / H], transform=fig.transFigure, color='black', lw=2.5))
fig.add_artist(Line2D([1112 / W, 1112 / W], [0, 1 - 7 / H], transform=fig.transFigure, color='#666666', lw=1.0))

fig.savefig('out.png', dpi=100)
plt.close(fig)
